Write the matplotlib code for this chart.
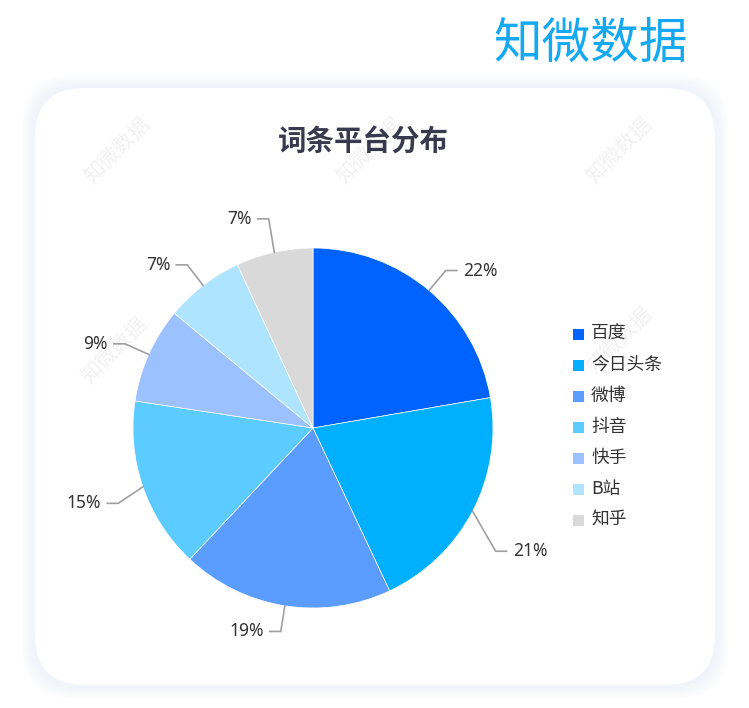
import numpy as np
import matplotlib
matplotlib.use("Agg")
import matplotlib.pyplot as plt
from matplotlib.patches import FancyBboxPatch, Rectangle

plt.rcParams['font.family'] = ['Noto Sans CJK SC', 'DejaVu Sans']

# data
platforms = ['百度', '今日头条', '微博', '抖音', '快手', 'B站', '知乎']
shares = [22.3, 20.7, 19.0, 15.4, 8.6, 7.1, 6.9]
colors = ['#0062ff', '#00b0ff', '#5b9cff', '#5ccbff', '#9cc1ff', '#afe4ff', '#d9d9d9']
title = '词条平台分布'
brand = '知微数据'

W, H = 749, 708
fig = plt.figure(figsize=(W / 100, H / 100), dpi=100)
ax = fig.add_axes([0, 0, 1, 1])
ax.set_xlim(0, W)
ax.set_ylim(0, H)
ax.set_aspect('equal')
ax.axis('off')

def py(y):
    # pixel row (from top) -> axis y
    return H - y

# card with soft glow
for i in range(10, 0, -1):
    ax.add_patch(FancyBboxPatch((35 - i * 1.3 + 50, py(685) - i * 1.3 + 50),
                                680 + i * 2.6 - 100, 597 + i * 2.6 - 100,
                                boxstyle="round,pad=50", fc='#e3ebfb', ec='none',
                                alpha=0.05, zorder=0))
ax.add_patch(FancyBboxPatch((35 + 50, py(685) + 50), 680 - 100, 597 - 100,
                            boxstyle="round,pad=50", fc='white', ec='none', zorder=1))

# brand
ax.text(591, py(44), brand, fontsize=35, color='#14a9f2', ha='center', va='center',
        fontweight='normal', zorder=3)

# watermarks
for wx, wy in [(118, 150), (370, 150), (620, 150), (115, 350), (620, 340)]:
    ax.text(wx, py(wy), brand, fontsize=15, color='#000000', alpha=0.06,
            rotation=45, ha='center', va='center', zorder=6)

# title
ax.text(363, py(143), title, fontsize=20.5, fontweight='bold', color='#3a3a4e',
        ha='center', va='center', zorder=3)

# pie
cx, cy, r = 313, py(428), 180
wedges, _ = ax.pie(shares, colors=colors, startangle=90, counterclock=False,
                   center=(cx, cy), radius=r, frame=True,
                   wedgeprops=dict(linewidth=0.5, edgecolor='white'))
for w in wedges:
    w.set_zorder(4)
ax.set_xlim(0, W)
ax.set_ylim(0, H)
ax.axis('off')

# labels with leader lines
nudge = [0, -28, 0, -8, 0, 0, 8]
for w, s, dy in zip(wedges, shares, nudge):
    ang = np.deg2rad((w.theta1 + w.theta2) / 2)
    ex, ey = cx + r * np.cos(ang), cy + r * np.sin(ang)
    bx, by = cx + (r + 26) * np.cos(ang), cy + (r + 26) * np.sin(ang) + dy
    side = 1 if np.cos(ang) >= 0 else -1
    tx = bx + side * 11
    ax.plot([ex, bx, tx], [ey, by, by], color='#a0a0a0', lw=1.2, zorder=5,
            solid_joinstyle='miter')
    ax.text(tx + side * 6, by, f'{round(s)}%', fontsize=12.5, color='#333333',
            family=['Noto Sans', 'DejaVu Sans'],
            ha='left' if side > 0 else 'right', va='center', zorder=5)

# legend
for i, (name, c) in enumerate(zip(platforms, colors)):
    yy = py(334 + i * 31)
    ax.add_patch(Rectangle((573, yy - 5.5), 11, 11, fc=c, ec='none', zorder=5))
    ax.text(591, yy, name, fontsize=12.8, color='#333333', ha='left', va='center', zorder=5)

fig.savefig('out.png', dpi=100, facecolor='white')
